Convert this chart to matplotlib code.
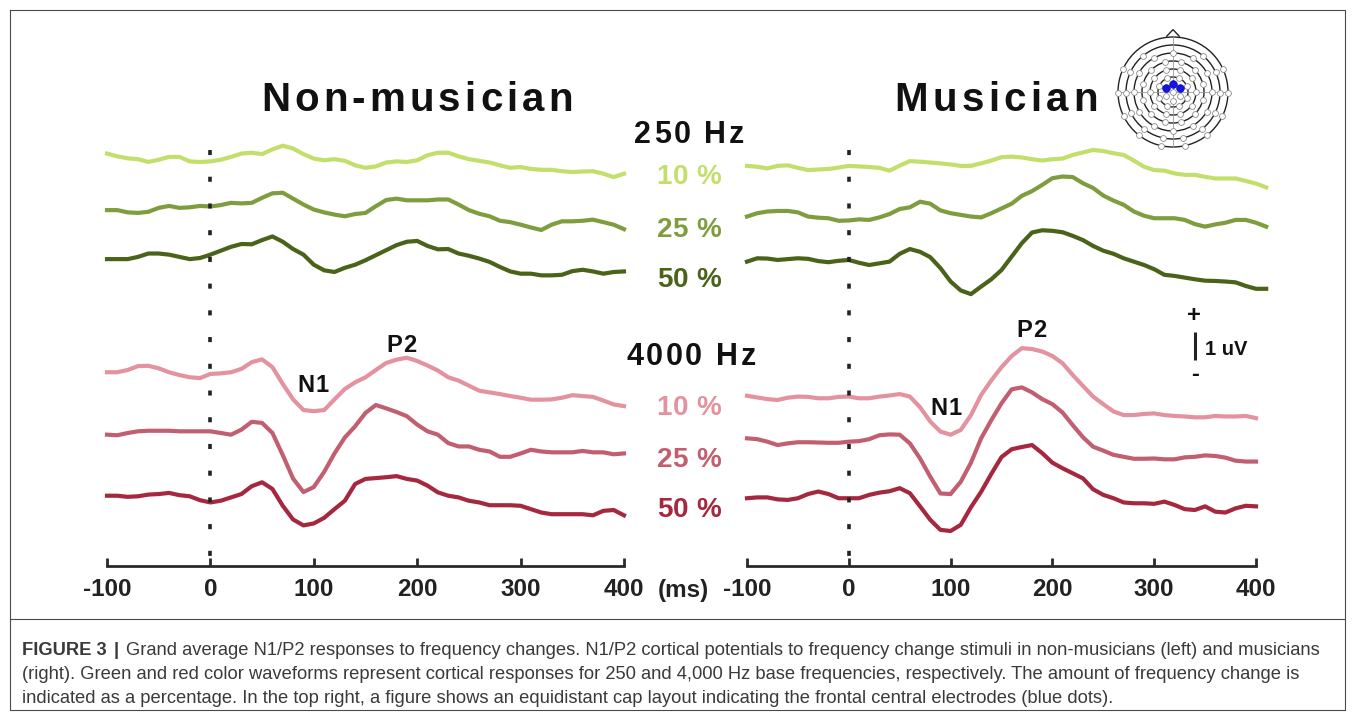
import numpy as np
import matplotlib
matplotlib.use("Agg")
import matplotlib.pyplot as plt
from matplotlib.font_manager import FontProperties, findfont, get_font
from matplotlib.transforms import offset_copy
from matplotlib.patches import Circle, Polygon

plt.rcParams['font.family'] = ['Liberation Sans', 'DejaVu Sans']

W, H = 1355, 718

# time base (ms)
t_nm = np.arange(-100, 401, 10)
t_mu_250 = np.arange(-100, 411, 10)
t_mu_4000 = np.arange(-100, 401, 10)

# grand averages (uV), non-musicians
nm_250_10 = [0.24, 0.14, 0.07, 0.04, -0.06, 0.02, 0.12, 0.12, -0.04, -0.06, -0.04, 0.02, 0.12, 0.24, 0.27, 0.22, 0.39,
             0.52, 0.42, 0.22, 0.06, 0.00, 0.04, -0.02, -0.18, -0.27, -0.22, -0.08, -0.04, -0.06, 0.00, 0.18, 0.27,
             0.27, 0.14, 0.04, -0.02, -0.08, -0.18, -0.27, -0.24, -0.31, -0.34, -0.34, -0.39, -0.42, -0.40, -0.39,
             -0.48, -0.60, -0.48]
nm_250_25 = [-0.08, -0.08, -0.16, -0.18, -0.14, 0.00, 0.07, 0.00, 0.02, 0.07, 0.05, 0.10, 0.18, 0.16, 0.18, 0.36, 0.52,
             0.54, 0.33, 0.12, -0.06, -0.16, -0.24, -0.30, -0.22, -0.18, 0.06, 0.28, 0.33, 0.27, 0.27, 0.27, 0.30,
             0.30, 0.12, -0.08, -0.21, -0.30, -0.46, -0.51, -0.60, -0.70, -0.79, -0.60, -0.48, -0.48, -0.46, -0.42,
             -0.51, -0.60, -0.76]
nm_250_50 = [-0.02, -0.02, -0.02, 0.06, 0.18, 0.18, 0.14, 0.06, -0.02, 0.02, 0.14, 0.28, 0.42, 0.52, 0.51, 0.66, 0.79,
             0.60, 0.34, 0.14, -0.22, -0.42, -0.48, -0.33, -0.22, -0.06, 0.12, 0.30, 0.48, 0.60, 0.63, 0.45, 0.33,
             0.34, 0.18, 0.10, 0.00, -0.12, -0.30, -0.46, -0.54, -0.54, -0.60, -0.60, -0.58, -0.45, -0.40, -0.46,
             -0.54, -0.48, -0.46]
nm_4000_10 = [0.00, 0.00, 0.08, 0.22, 0.23, 0.14, 0.00, -0.10, -0.18, -0.21, -0.06, -0.04, 0.00, 0.12, 0.36, 0.46,
              0.18, -0.42, -0.97, -1.35, -1.39, -1.35, -0.97, -0.60, -0.36, -0.18, 0.08, 0.33, 0.45, 0.52, 0.40, 0.24,
              0.06, -0.18, -0.30, -0.48, -0.66, -0.72, -0.78, -0.85, -0.91, -0.98, -0.98, -0.97, -0.91, -0.82, -0.85,
              -0.88, -1.01, -1.15, -1.21]
nm_4000_25 = [-0.12, -0.14, -0.06, 0.00, 0.02, 0.02, 0.02, 0.00, 0.00, 0.00, 0.00, -0.06, -0.12, 0.06, 0.34, 0.30,
              -0.06, -0.85, -1.69, -2.17, -1.99, -1.45, -0.79, -0.22, 0.18, 0.66, 0.94, 0.82, 0.69, 0.54, 0.24, 0.00,
              -0.12, -0.42, -0.54, -0.54, -0.66, -0.72, -0.91, -0.91, -0.79, -0.66, -0.72, -0.75, -0.75, -0.75, -0.70,
              -0.75, -0.75, -0.82, -0.79]
nm_4000_50 = [0.00, 0.00, -0.04, -0.02, 0.04, 0.06, 0.10, 0.02, -0.02, -0.16, -0.24, -0.18, -0.06, 0.06, 0.34, 0.48,
              0.24, -0.36, -0.85, -1.06, -0.99, -0.79, -0.48, -0.18, 0.42, 0.60, 0.63, 0.66, 0.70, 0.60, 0.54, 0.36,
              0.12, 0.00, -0.06, -0.18, -0.24, -0.34, -0.34, -0.34, -0.36, -0.48, -0.60, -0.66, -0.66, -0.66, -0.66,
              -0.70, -0.54, -0.51, -0.70]

# grand averages (uV), musicians
mu_250_10 = [0.03, 0.00, -0.06, 0.03, 0.05, -0.04, -0.12, -0.10, -0.08, -0.03, 0.03, 0.01, -0.01, -0.04, -0.14, 0.04,
             0.20, 0.18, 0.15, 0.12, 0.08, 0.03, 0.03, 0.12, 0.22, 0.34, 0.36, 0.33, 0.27, 0.22, 0.27, 0.29, 0.42,
             0.51, 0.60, 0.56, 0.48, 0.42, 0.22, 0.00, -0.12, -0.14, -0.24, -0.29, -0.29, -0.36, -0.42, -0.42, -0.42,
             -0.51, -0.60, -0.74]
mu_250_25 = [0.00, 0.12, 0.18, 0.20, 0.20, 0.15, 0.00, -0.04, -0.06, -0.15, -0.14, -0.10, -0.12, -0.03, 0.09, 0.27,
             0.33, 0.53, 0.46, 0.22, 0.12, 0.06, 0.00, -0.03, 0.12, 0.29, 0.46, 0.74, 0.91, 1.13, 1.37, 1.43, 1.41,
             1.19, 1.02, 0.75, 0.57, 0.42, 0.18, 0.03, -0.06, -0.06, -0.06, -0.12, -0.27, -0.36, -0.28, -0.22, -0.12,
             -0.12, -0.22, -0.36]
mu_250_50 = [-0.06, 0.06, 0.05, 0.00, 0.03, 0.06, 0.04, -0.04, -0.08, -0.03, 0.00, -0.10, -0.18, -0.12, -0.06, 0.22,
             0.39, 0.29, 0.10, -0.29, -0.77, -1.09, -1.22, -0.95, -0.69, -0.36, 0.12, 0.60, 0.98, 1.06, 1.04, 0.99,
             0.86, 0.71, 0.50, 0.33, 0.22, 0.06, -0.06, -0.18, -0.33, -0.53, -0.57, -0.63, -0.69, -0.74, -0.75, -0.77,
             -0.80, -0.93, -1.03, -1.03]
mu_4000_10 = [0.03, -0.03, -0.09, -0.12, -0.04, 0.00, -0.01, -0.06, -0.06, -0.01, 0.00, -0.06, -0.06, 0.00, 0.04, 0.09,
              0.00, -0.38, -0.89, -1.25, -1.36, -1.19, -0.66, 0.06, 0.58, 1.05, 1.45, 1.73, 1.70, 1.61, 1.45, 1.19,
              0.77, 0.38, 0.00, -0.27, -0.53, -0.66, -0.66, -0.62, -0.60, -0.66, -0.69, -0.71, -0.74, -0.74, -0.69,
              -0.71, -0.71, -0.69, -0.77]
mu_4000_25 = [0.06, 0.03, -0.06, -0.18, -0.12, -0.08, -0.08, -0.09, -0.10, -0.10, -0.06, -0.04, 0.03, 0.17, 0.20, 0.19,
              -0.12, -0.66, -1.31, -1.91, -1.93, -1.49, -0.81, 0.06, 0.71, 1.31, 1.81, 1.88, 1.70, 1.46, 1.28, 0.98,
              0.53, 0.10, -0.24, -0.38, -0.53, -0.60, -0.67, -0.67, -0.66, -0.69, -0.69, -0.62, -0.60, -0.55, -0.57,
              -0.63, -0.74, -0.77, -0.77]
mu_4000_50 = [0.00, 0.03, 0.03, -0.04, -0.06, 0.00, 0.15, 0.24, 0.15, 0.00, 0.00, 0.00, 0.12, 0.20, 0.25, 0.36, 0.18,
              -0.29, -0.77, -1.13, -1.17, -0.95, -0.32, 0.23, 0.87, 1.47, 1.75, 1.83, 1.90, 1.61, 1.27, 1.07, 0.89,
              0.71, 0.32, 0.12, 0.00, -0.15, -0.18, -0.18, -0.20, -0.12, -0.24, -0.39, -0.42, -0.29, -0.48, -0.51,
              -0.36, -0.27, -0.29]

change_labels = ['10 %', '25 %', '50 %']
tick_ms = [-100, 0, 100, 200, 300, 400]
tick_text = ['-100', '0', '100', '200', '300', '400']

# vertical stacking of the waveforms (uV above the time axis)
stack_nm = [14.49, 12.79, 10.98, 6.92, 4.81, 2.51]
stack_mu = [14.26, 12.48, 10.93, 6.05, 4.50, 2.42]

greens = ['#c3df6b', '#7f9d3f', '#4b6219']
reds = ['#e3939f', '#c15f71', '#a5283f']
UV_PX = 28.0  # pixels per microvolt

fig = plt.figure(figsize=(W / 100, H / 100), dpi=100)


def fx(px):
    return px / W


def fy(py):
    return 1 - py / H


def spaced(x, y, s, size, track, color='#111111', weight='bold'):
    """Centered text with extra letter spacing (track in points)."""
    prop = FontProperties(family='Liberation Sans', weight=weight, size=size)
    font = get_font(findfont(prop))
    font.set_size(size, 72)
    adv = [font.load_char(ord(c)).linearHoriAdvance / 65536 for c in s]
    pos = -(sum(adv) + track * (len(s) - 1)) / 2
    for c, a in zip(s, adv):
        tr = offset_copy(fig.transFigure, fig=fig, x=pos, y=0, units='points')
        fig.text(fx(x), fy(y), c, transform=tr, fontproperties=prop, color=color,
                 ha='left', va='baseline')
        pos += a + track


def panel(x0, x1):
    ax = fig.add_axes([fx(x0), fy(566), fx(x1) - fx(x0), fy(100) - fy(566)])
    ax.set_xlim(-100, 400)
    ax.set_ylim(0, (566 - 100) / UV_PX)
    for side in ['left', 'right', 'top']:
        ax.spines[side].set_visible(False)
    ax.spines['bottom'].set_linewidth(2.0)
    ax.spines['bottom'].set_color('#2a2a2a')
    ax.set_yticks([])
    ax.set_xticks(tick_ms)
    ax.set_xticklabels(tick_text)
    ax.tick_params(axis='x', direction='in', length=5.5, width=2.0, color='#2a2a2a',
                   pad=9, labelsize=17.5, labelcolor='#222222')
    for lab in ax.get_xticklabels():
        lab.set_fontweight('bold')
    ax.patch.set_alpha(0)
    # stimulus onset
    ax.plot([0, 0], [(566 - 150) / UV_PX, 0.05], color='#222222', lw=2.6,
            linestyle=(0, (1.4, 6.0)), zorder=5, clip_on=False)
    return ax


ax_nm = panel(107, 624)
ax_mu = panel(747, 1256)

for v, base, c in zip([nm_250_10, nm_250_25, nm_250_50], stack_nm[:3], greens):
    ax_nm.plot(t_nm, base + np.asarray(v), color=c, lw=3, clip_on=False)
for v, base, c in zip([nm_4000_10, nm_4000_25, nm_4000_50], stack_nm[3:], reds):
    ax_nm.plot(t_nm, base + np.asarray(v), color=c, lw=3, clip_on=False)
for v, base, c in zip([mu_250_10, mu_250_25, mu_250_50], stack_mu[:3], greens):
    ax_mu.plot(t_mu_250, base + np.asarray(v), color=c, lw=3, clip_on=False)
for v, base, c in zip([mu_4000_10, mu_4000_25, mu_4000_50], stack_mu[3:], reds):
    ax_mu.plot(t_mu_4000, base + np.asarray(v), color=c, lw=3, clip_on=False)

# 1 uV scale bar
ax_mu.plot([340, 340], [(566 - 360) / UV_PX, (566 - 360) / UV_PX + 1.0], color='#222222', lw=2.2,
           clip_on=False, solid_capstyle='butt')
fig.text(fx(1194), fy(316), '+', ha='center', va='center', fontsize=17, fontweight='bold', color='#111111')
fig.text(fx(1195), fy(375), '-', ha='center', va='center', fontsize=17, fontweight='bold', color='#111111')
fig.text(fx(1205), fy(355), '1 uV', ha='left', va='baseline', fontsize=14.5, fontweight='bold', color='#111111')

# titles and condition labels
spaced(417, 111, 'Non-musician', 29, 3.0)
spaced(996, 111, 'Musician', 29, 3.2)
spaced(689, 143, '250 Hz', 22, 1.8)
spaced(691, 365, '4000 Hz', 22, 1.9)
for lab, yb, c in zip(change_labels, [184, 237, 287], greens):
    spaced(689, yb, lab, 20, 0.3, color=c)
for lab, yb, c in zip(change_labels, [415, 467, 517], reds):
    spaced(689, yb, lab, 20, 0.3, color=c)
spaced(313, 392, 'N1', 17, 0.5)
spaced(401, 352, 'P2', 17, 0.5)
spaced(946, 415, 'N1', 17, 0.5)
spaced(1031, 337, 'P2', 17, 0.5)
fig.text(fx(683), fy(590), '(ms)', ha='center', va='center', fontsize=17.5, fontweight='bold', color='#222222')

# electrode cap layout
head = fig.add_axes([fx(1113), fy(152), fx(1233) - fx(1113), fy(25) - fy(152)])
head.set_xlim(-60, 60)
head.set_ylim(-60, 67)
head.set_aspect('equal')
head.axis('off')
ring_radii = [15, 23, 31, 39, 47, 55]
for r in ring_radii:
    head.add_patch(Circle((0, 0), r, fill=False, lw=1.0, ec='#222222'))
head.plot([0, 0], [-55, 55.5], color='#9a9a9a', lw=0.6)
head.plot([-55, 55], [0, 0], color='#9a9a9a', lw=0.6)
head.add_patch(Polygon([[-6.7, 55.3], [0, 62.4], [6.7, 55.3]], closed=False, fill=False, lw=1.0, ec='#222222'))
# (radius, count, first angle from the nose)
electrode_rings = [(0, 1, 0), (8.5, 6, 0), (15, 8, 22.5), (23, 10, 18), (31, 12, 15), (39, 12, 0),
                   (47, 12, 40), (55, 10, 65)]
ex, ey = [], []
for r, n, a0 in electrode_rings:
    if a0 >= 30:
        ang = np.radians(np.linspace(a0, 360 - a0, n))
    else:
        ang = np.radians(a0 + np.arange(n) * 360 / n)
    ex += list(r * np.sin(ang))
    ey += list(r * np.cos(ang))
head.plot(ex, ey, 'o', ms=4.2, mfc='white', mec='#8c8c8c', mew=0.6)
blue_ang = np.radians([-60, 0, 60])
head.plot(8.5 * np.sin(blue_ang), 8.5 * np.cos(blue_ang), 'o', ms=5.5, mfc='#1414e6', mec='#0a0aa0', mew=0.5)

# frame and caption
frame = dict(transform=fig.transFigure, color='#4a4a4a', lw=0.8)
fig.add_artist(plt.Line2D([fx(10), fx(1345), fx(1345), fx(10), fx(10)],
                          [fy(10), fy(10), fy(710), fy(710), fy(10)], **frame))
fig.add_artist(plt.Line2D([fx(10), fx(1345)], [fy(619), fy(619)], **frame))

cap_kw = dict(fontsize=13.25, color='#3a3a3a', va='baseline', ha='left')
fig.text(fx(22), fy(655), 'FIGURE 3', fontweight='bold', **cap_kw)
fig.text(fx(114), fy(655), '|', fontweight='bold', **cap_kw)
fig.text(fx(126), fy(655), 'Grand average N1/P2 responses to frequency changes. N1/P2 cortical potentials to '
                           'frequency change stimuli in non-musicians (left) and musicians', **cap_kw)
fig.text(fx(22), fy(679), '(right). Green and red color waveforms represent cortical responses for 250 and '
                          '4,000 Hz base frequencies, respectively. The amount of frequency change is', **cap_kw)
fig.text(fx(22), fy(703), 'indicated as a percentage. In the top right, a figure shows an equidistant cap layout '
                          'indicating the frontal central electrodes (blue dots).', **cap_kw)

fig.savefig('out.png', dpi=100)
